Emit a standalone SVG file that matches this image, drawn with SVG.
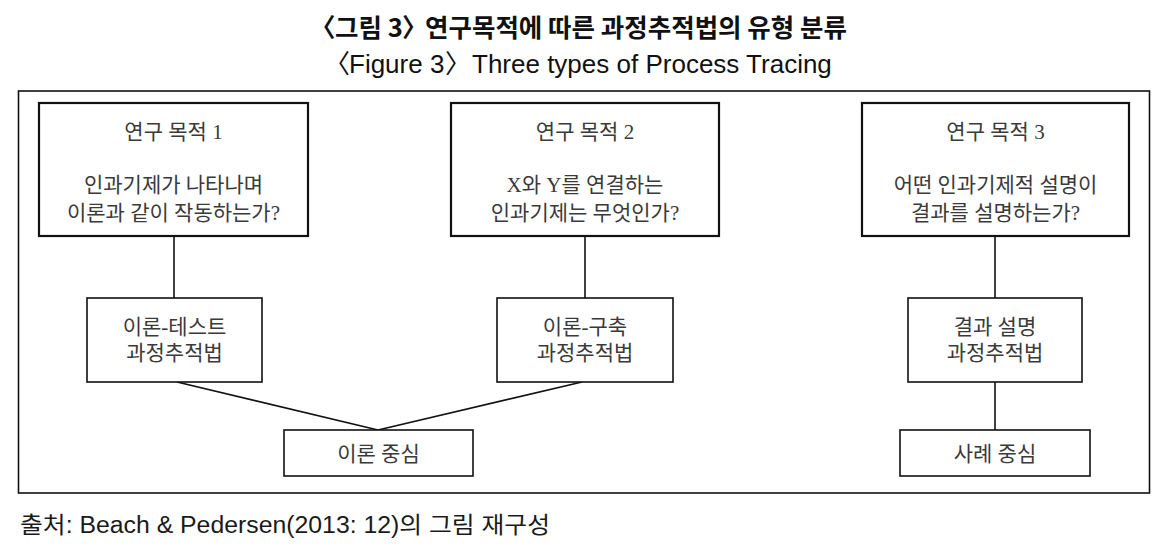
<svg xmlns="http://www.w3.org/2000/svg" width="1172" height="554" viewBox="0 0 1172 554">
<style>
.frame{fill:none;stroke:#111;stroke-width:1.6}
.big{fill:#fff;stroke:#111;stroke-width:2.2}
.small{fill:#fff;stroke:#111;stroke-width:1.6}
.conn line{stroke:#111;stroke-width:1.6}
.t{font-family:"Liberation Serif","Noto Sans CJK KR",serif;font-size:21px;fill:#3a3a3a;text-anchor:middle}
.title{font-family:"Noto Sans CJK KR",sans-serif;font-weight:bold;font-size:25.5px;fill:#111}
.title2{font-family:"Liberation Sans","Noto Sans CJK KR",sans-serif;font-size:26px;fill:#111}
.src{font-family:"Liberation Sans","Noto Sans CJK KR",sans-serif;font-size:23px;fill:#1a1a1a}
</style>
<rect width="1172" height="554" fill="#fff"/>
<g id="title">
<text class="title" y="37"><tspan x="310">〈</tspan><tspan x="335">그림 3</tspan><tspan x="402">〉</tspan><tspan x="425">연구목적에 따른 과정추적법의 유형 분류</tspan></text>
<text class="title2" y="73"><tspan x="324">〈</tspan><tspan x="349">Figure 3</tspan><tspan x="445">〉</tspan><tspan x="472">Three types of Process Tracing</tspan></text>
</g>
<rect class="frame" x="18.5" y="91" width="1131" height="402"/>
<g id="connectors" class="conn">
<line x1="174" y1="236" x2="174" y2="298"/>
<line x1="585" y1="236" x2="585" y2="298"/>
<line x1="995" y1="236" x2="995" y2="298"/>
<line x1="177" y1="382" x2="378" y2="430"/>
<line x1="582" y1="382" x2="378" y2="430"/>
<line x1="995" y1="382" x2="995" y2="430"/>
</g>
<g id="goal1">
<rect class="big" x="39" y="103" width="269" height="133"/>
<text class="t" x="173.5" y="139">연구 목적 1</text>
<text class="t" x="173.5" y="192">인과기제가 나타나며</text>
<text class="t" x="173.5" y="220">이론과 같이 작동하는가?</text>
</g>
<g id="goal2">
<rect class="big" x="451" y="103" width="268" height="133"/>
<text class="t" x="585" y="139">연구 목적 2</text>
<text class="t" x="585" y="192">X와 Y를 연결하는</text>
<text class="t" x="585" y="220">인과기제는 무엇인가?</text>
</g>
<g id="goal3">
<rect class="big" x="862" y="103" width="267" height="133"/>
<text class="t" x="995.5" y="139">연구 목적 3</text>
<text class="t" x="995.5" y="192">어떤 인과기제적 설명이</text>
<text class="t" x="995.5" y="220">결과를 설명하는가?</text>
</g>
<g id="theory-test">
<rect class="small" x="87" y="298" width="175" height="84"/>
<text class="t" x="174.5" y="334">이론-테스트</text>
<text class="t" x="174.5" y="360">과정추적법</text>
</g>
<g id="theory-build">
<rect class="small" x="497" y="298" width="176" height="84"/>
<text class="t" x="585" y="334">이론-구축</text>
<text class="t" x="585" y="360">과정추적법</text>
</g>
<g id="explain-outcome">
<rect class="small" x="908" y="298" width="174" height="84"/>
<text class="t" x="995" y="334">결과 설명</text>
<text class="t" x="995" y="360">과정추적법</text>
</g>
<g id="theory-centric">
<rect class="small" x="284" y="430" width="189" height="46"/>
<text class="t" x="378.5" y="461">이론 중심</text>
</g>
<g id="case-centric">
<rect class="small" x="900" y="430" width="190" height="46"/>
<text class="t" x="995" y="461">사례 중심</text>
</g>
<text class="src" x="20" y="533" textLength="530" lengthAdjust="spacingAndGlyphs">출처: Beach &amp; Pedersen(2013: 12)의 그림 재구성</text>
</svg>
